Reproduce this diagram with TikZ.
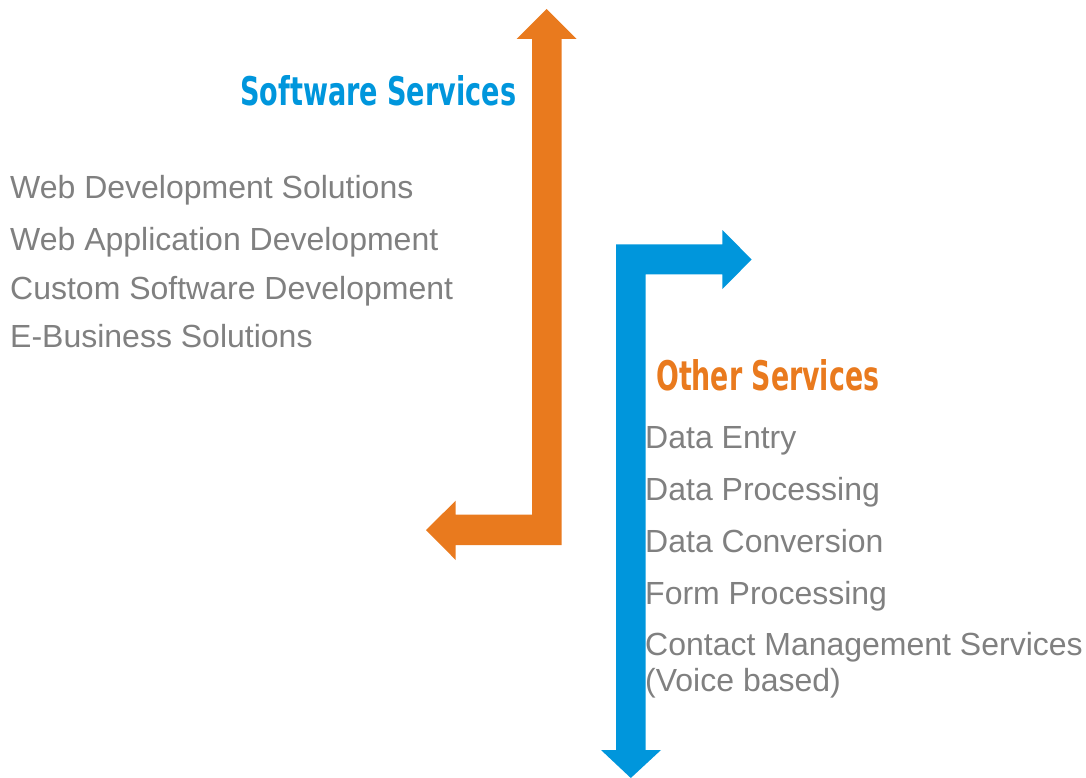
\documentclass[tikz,border=0pt]{standalone}
\usepackage{fontspec}
\setmainfont{Liberation Sans}
\newfontfamily\titlefont{DejaVu Sans Condensed}[BoldFont={DejaVu Sans Condensed Bold}]
\definecolor{myorange}{RGB}{233,122,30}
\definecolor{myblue}{RGB}{0,150,220}
\definecolor{mygray}{RGB}{128,128,128}
\begin{document}
\begin{tikzpicture}[x=1pt,y=-1pt,
  item/.style={anchor=base west,inner sep=0pt,text=mygray,font=\fontsize{32}{36}\selectfont},
  ttl/.style={anchor=base west,inner sep=0pt}]
\useasboundingbox (0,0) rectangle (1086,778);
% orange arrow
\fill[myorange] (546.7,9) -- (576.5,39) -- (561.7,39) -- (561.7,545) -- (455.7,545) -- (455.7,560)
  -- (426,530) -- (455.7,500.7) -- (455.7,514.5) -- (532,514.5) -- (532,39) -- (516.7,39) -- cycle;
% blue arrow
\fill[myblue] (751.7,259.5) -- (722.3,289) -- (722.3,274.3) -- (645.7,274.3) -- (645.7,750) -- (661,750)
  -- (630.8,778) -- (601,750) -- (616,750) -- (616,244.3) -- (722.3,244.3) -- (722.3,230) -- cycle;
% titles
\node[ttl] (sw) at (240,105.5) {\resizebox{276pt}{30pt}{\color{myblue}\titlefont\bfseries Software Services}};
\node[ttl] (ot) at (656,390) {\resizebox{223pt}{31pt}{\color{myorange}\titlefont\bfseries Other Services}};
% left items
\node[item] (l1) at (10,198.3) {Web Development Solutions};
\node[item] (l2) at (10,250.5) {Web Application Development};
\node[item] (l3) at (10,299.5) {Custom Software Development};
\node[item] (l4) at (10,347.5) {E-Business Solutions};
% right items
\node[item] (r1) at (645,448.3) {Data Entry};
\node[item] (r2) at (645,500.3) {Data Processing};
\node[item] (r3) at (645,552) {Data Conversion};
\node[item] (r4) at (645,604.5) {Form Processing};
\node[item] (r5) at (645,655.5) {Contact Management Services};
\node[item] (r6) at (645,691) {(Voice based)};
\end{tikzpicture}
\end{document}
